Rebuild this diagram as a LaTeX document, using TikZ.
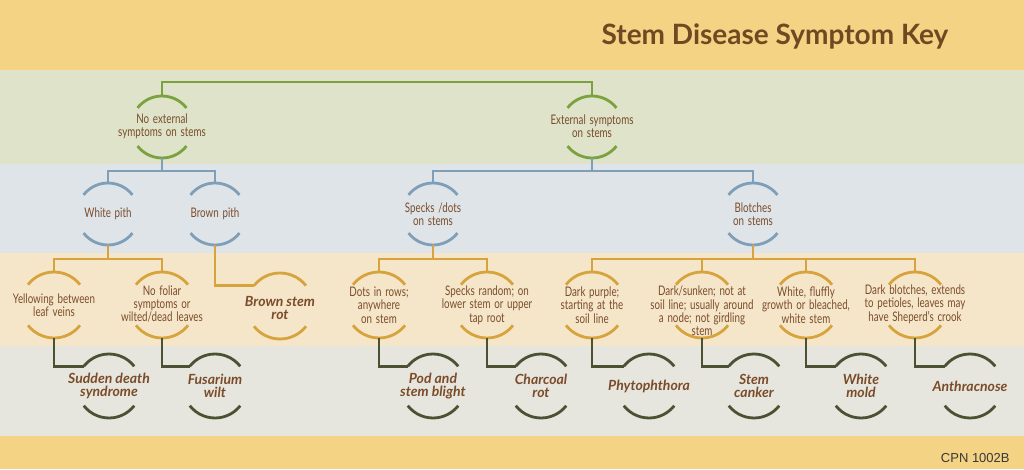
\documentclass[tikz,border=0pt]{standalone}
\usepackage{fontspec}
\setmainfont{Lato}
\newfontfamily\condf{Lato}[FakeStretch=0.74,WordSpace={1.5,0.5,0.5}]
\newfontfamily\cpnf{Liberation Sans}
\definecolor{bandyellow}{HTML}{F5D384}
\definecolor{bandgreen}{HTML}{DEE3C9}
\definecolor{bandblue}{HTML}{DFE4E9}
\definecolor{bandpeach}{HTML}{F6E6C9}
\definecolor{bandgray}{HTML}{E7E6DE}
\definecolor{lgreen}{HTML}{7AA23F}
\definecolor{lblue}{HTML}{7F9EB7}
\definecolor{lgold}{HTML}{D6A33C}
\definecolor{ldark}{HTML}{4A5233}
\definecolor{txtbrown}{HTML}{7A4C2A}
\definecolor{titlebrown}{HTML}{6E4A22}
\newcommand{\keynode}[8]{%
  \coordinate (#1) at (#2,#3);
  \node[#6] (#1-txt) at ([yshift=#7]#1) {#8};
  \draw[#5] ([shift={(38:#4)}]#1) arc[start angle=38,end angle=142,radius=#4];
  \draw[#5] ([shift={(218:#4)}]#1) arc[start angle=218,end angle=322,radius=#4];
  \coordinate (#1-t) at ([yshift=#4]#1);
  \coordinate (#1-b) at ([yshift=-#4]#1);
  \coordinate (#1-l) at ([shift={(142:#4)}]#1);
}
\begin{document}
\begin{tikzpicture}[x=1pt,y=1pt,line width=2.8pt,
  lvltext/.style={font=\condf\fontsize{13.2}{13.3}\selectfont,text=txtbrown,align=center,inner sep=0pt},
  distext/.style={font=\bfseries\itshape\fontsize{14}{13.5}\selectfont,text=txtbrown,align=center,inner sep=0pt},
  gl/.style={draw=lgreen},
  bl/.style={draw=lblue},
  ol/.style={draw=lgold},
  dl/.style={draw=ldark}]
\useasboundingbox (0,0) rectangle (1024,469);
% bands
\fill[bandyellow] (0,0) rectangle (1024,469);
\fill[bandgreen] (0,305) rectangle (1024,399);
\fill[bandblue] (0,216) rectangle (1024,305);
\fill[bandpeach] (0,123) rectangle (1024,216);
\fill[bandgray] (0,33) rectangle (1024,123);
% title
\node[font=\bfseries\fontsize{28}{30}\selectfont,text=titlebrown,inner sep=0pt] (title) at (775,433) {Stem Disease Symptom Key};
\node[font=\cpnf\fontsize{13}{15}\selectfont,text=black!78,anchor=east,inner sep=0pt] (cpn) at (1011,11) {CPN 1002B};
% level 1
\keynode{noext}{162}{342}{31}{gl}{lvltext}{1pt}{No external\\symptoms on stems}
\keynode{ext}{592}{342}{31}{gl}{lvltext}{1pt}{External symptoms\\on stems}
% level 2
\keynode{white}{108}{255}{31}{bl}{lvltext}{0pt}{White pith}
\keynode{brown}{215}{255}{31}{bl}{lvltext}{0pt}{Brown pith}
\keynode{specks}{433}{255}{31}{bl}{lvltext}{0pt}{Specks /dots\\on stems}
\keynode{blotches}{753}{255}{31}{bl}{lvltext}{0pt}{Blotches\\on stems}
% level 3
\keynode{yellow}{54}{164}{33}{ol}{lvltext}{0pt}{Yellowing between\\leaf veins}
\keynode{nofoliar}{162}{164}{33}{ol}{lvltext}{1pt}{No foliar\\symptoms or\\wilted/dead leaves}
\keynode{brownrot}{280}{163}{33}{ol}{distext}{-2pt}{Brown stem\\rot}
\keynode{dots}{379}{164}{33}{ol}{lvltext}{0pt}{Dots in rows;\\anywhere\\on stem}
\keynode{random}{487}{164}{33}{ol}{lvltext}{0pt}{Specks random; on\\lower stem or upper\\tap root}
\keynode{purple}{592}{164}{33}{ol}{lvltext}{0pt}{Dark purple;\\starting at the\\soil line}
\keynode{sunken}{702}{164}{33}{ol}{lvltext}{-6pt}{Dark/sunken; not at\\soil line; usually around\\a node; not girdling\\stem}
\keynode{fluffy}{806}{164}{33}{ol}{lvltext}{0pt}{White, fluffly\\growth or bleached,\\white stem}
\keynode{darkblotch}{915}{164}{33}{ol}{lvltext}{1pt}{Dark blotches, extends\\to petioles, leaves may\\have Sheperd’s crook}
% level 4
\keynode{sds}{109}{83}{32}{dl}{distext}{0pt}{Sudden death\\syndrome}
\keynode{fus}{215}{83}{32}{dl}{distext}{0pt}{Fusarium\\wilt}
\keynode{pod}{433}{83}{32}{dl}{distext}{0pt}{Pod and\\stem blight}
\keynode{charcoal}{541}{83}{32}{dl}{distext}{0pt}{Charcoal\\rot}
\keynode{phyto}{649}{83}{32}{dl}{distext}{0pt}{Phytophthora}
\keynode{canker}{754}{83}{32}{dl}{distext}{0pt}{Stem\\canker}
\keynode{whitemold}{861}{83}{32}{dl}{distext}{0pt}{White\\mold}
\keynode{anthrac}{970}{83}{32}{dl}{distext}{0pt}{Anthracnose}
% connectors level 0 -> 1
\draw[gl] (noext-t) -- ++(0,14) -| (ext-t);
% level 1 -> 2
\draw[bl] (noext-b) -- ++(0,-13) coordinate (j1);
\draw[bl] (white-t) |- (j1) -| (brown-t);
\draw[bl] (ext-b) -- ++(0,-13) coordinate (j2);
\draw[bl] (specks-t) |- (j2) -| (blotches-t);
% level 2 -> 3
\draw[ol] (white-b) -- ++(0,-14) coordinate (j3);
\draw[ol] (yellow-t) |- (j3) -| (nofoliar-t);
\draw[ol] (brown-b) |- (brownrot-l);
\draw[ol] (specks-b) -- ++(0,-14) coordinate (j4);
\draw[ol] (dots-t) |- (j4) -| (random-t);
\draw[ol] (blotches-b) -- ++(0,-14) coordinate (j5);
\draw[ol] (purple-t) |- (j5) -| (darkblotch-t);
\draw[ol] (sunken-t) -- (sunken-t |- j5);
\draw[ol] (fluffy-t) -- (fluffy-t |- j5);
% level 3 -> 4
\draw[dl] (yellow-b) |- (sds-l);
\draw[dl] (nofoliar-b) |- (fus-l);
\draw[dl] (dots-b) |- (pod-l);
\draw[dl] (random-b) |- (charcoal-l);
\draw[dl] (purple-b) |- (phyto-l);
\draw[dl] (sunken-b) |- (canker-l);
\draw[dl] (fluffy-b) |- (whitemold-l);
\draw[dl] (darkblotch-b) |- (anthrac-l);
\end{tikzpicture}
\end{document}
